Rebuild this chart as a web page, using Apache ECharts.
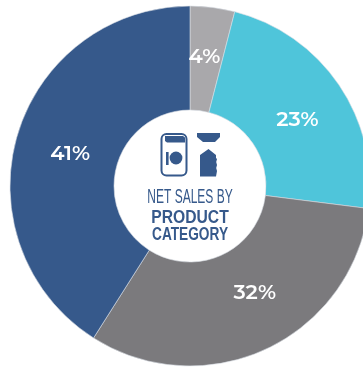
<!DOCTYPE html>
<html>
<head>
<meta charset="utf-8">
<style>html,body{margin:0;padding:0;background:#fff}#c{width:363px;height:368px}</style>
<script src="https://cdn.jsdelivr.net/npm/echarts@6/dist/echarts.min.js"></script>
</head>
<body>
<div id="c"></div>
<script>
// Net sales split by product category, clockwise from twelve o'clock
const categories = ['Other', 'Category B', 'Category C', 'Category A'];
const shares = [4, 23, 32, 41];
const sliceColors = ['#a9a8ab', '#4fc5da', '#7b7a7d', '#36598b'];
const titleLines = ['NET SALES BY', 'PRODUCT', 'CATEGORY'];

const ink = '#36598b';
const cx = 190, cy = 186;
const labelNudges = [[-2, 1], [-1, 7], [9, -12], [6, 4]];

// Condensed caption line: the face is squeezed horizontally about the centre
function captionLine(text, y, font, squeeze) {
  return {
    type: 'text', x: cx, y, scaleX: squeeze,
    style: { text, fill: ink, align: 'center', verticalAlign: 'middle', font }
  };
}

const chart = echarts.init(document.getElementById('c'), null, { renderer: 'canvas' });
chart.setOption({
  animation: false,
  series: [{
    type: 'pie',
    center: [cx, cy],
    radius: [76, 180],
    startAngle: 90,
    clockwise: true,
    silent: true,
    itemStyle: { borderColor: '#d9dde4', borderWidth: 0.6 },
    label: {
      position: 'inside',
      formatter: '{c}%',
      color: '#fff',
      fontFamily: 'Montserrat, "Open Sans", sans-serif',
      fontSize: 21,
      fontWeight: 600
    },
    labelLine: { show: false },
    data: categories.map((name, i) => ({
      name,
      value: shares[i],
      itemStyle: { color: sliceColors[i] },
      label: { offset: labelNudges[i] }
    }))
  }],
  graphic: [
    // Canister outline, lid band and dial
    { type: 'rect', shape: { x: 161.5, y: 134, width: 25, height: 41.5, r: 5 }, style: { fill: '#fff', stroke: ink, lineWidth: 2 } },
    { type: 'polygon', shape: { points: [[165, 136], [183, 136], [185, 137.5], [185, 142.5], [167, 142.5], [165, 141]] }, style: { fill: ink } },
    { type: 'circle', shape: { cx: 176, cy: 158, r: 6.4 }, style: { fill: ink } },
    { type: 'rect', shape: { x: 166, y: 152, width: 2.6, height: 13 }, style: { fill: ink } },
    // Funnel top and bottle
    { type: 'polygon', shape: { points: [[197, 133], [220, 133], [220, 137], [215, 142], [203, 142], [197, 137]] }, style: { fill: ink } },
    { type: 'polygon', shape: { points: [[208.5, 149], [216, 155], [216, 158], [217, 159], [216.2, 162], [217, 165], [216.2, 168], [217, 171], [216, 176.5], [200, 176.5], [200, 155]] }, style: { fill: ink } },
    // Centre caption
    captionLine(titleLines[0], 197, '20px "Liberation Sans", sans-serif', 0.6),
    captionLine(titleLines[1], 218, 'bold 18px "Liberation Sans", sans-serif', 0.87),
    captionLine(titleLines[2], 235, 'bold 18px "Liberation Sans", sans-serif', 0.76)
  ]
});
</script>
</body>
</html>
